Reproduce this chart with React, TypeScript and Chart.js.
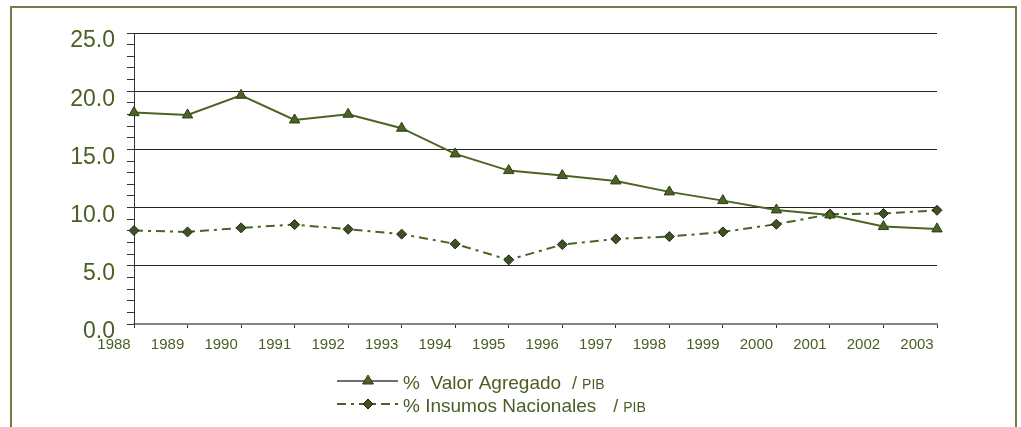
import React, { useEffect, useRef } from "react";
import { Chart, registerables } from "chart.js";

Chart.register(...registerables);

const years = ["1988", "1989", "1990", "1991", "1992", "1993", "1994", "1995", "1996", "1997", "1998", "1999", "2000", "2001", "2002", "2003"];
const valorAgregado = [18.16, 17.96, 19.65, 17.53, 18.02, 16.82, 14.61, 13.18, 12.75, 12.29, 11.35, 10.6, 9.8, 9.37, 8.37, 8.17];
const insumosNacionales = [8.03, 7.91, 8.26, 8.54, 8.14, 7.72, 6.88, 5.51, 6.82, 7.31, 7.51, 7.91, 8.57, 9.43, 9.49, 9.77];
const legendLabels = ["%  Valor Agregado", "% Insumos Nacionales"];
const legendSuffix = "PIB";

const OLIVE = "#4b6323";
const TEXT = "#4a5f24";
const FONT = "'Liberation Sans', Arial, Helvetica, sans-serif";

const legendPlugin = {
  id: "customLegend",
  afterDraw(chart: any) {
    const ctx = chart.ctx as CanvasRenderingContext2D;
    ctx.save();
    const x0 = 337, x1 = 398, mx = 368, tx = 403;
    const rows = [381, 404];
    // row 1 sample
    ctx.strokeStyle = "#6e6e6e";
    ctx.lineWidth = 2;
    ctx.setLineDash([]);
    ctx.beginPath();
    ctx.moveTo(x0, rows[0]);
    ctx.lineTo(x1, rows[0]);
    ctx.stroke();
    ctx.fillStyle = OLIVE;
    ctx.strokeStyle = "#2f3e15";
    ctx.lineWidth = 1;
    ctx.beginPath();
    ctx.moveTo(mx, rows[0] - 6);
    ctx.lineTo(mx + 5.5, rows[0] + 3);
    ctx.lineTo(mx - 5.5, rows[0] + 3);
    ctx.closePath();
    ctx.fill();
    ctx.stroke();
    // row 2 sample
    ctx.strokeStyle = OLIVE;
    ctx.lineWidth = 2;
    ctx.setLineDash([9, 5, 3, 5]);
    ctx.beginPath();
    ctx.moveTo(x0, rows[1]);
    ctx.lineTo(x1, rows[1]);
    ctx.stroke();
    ctx.setLineDash([]);
    ctx.fillStyle = "#3e5220";
    ctx.strokeStyle = "#222";
    ctx.lineWidth = 1;
    ctx.beginPath();
    ctx.moveTo(mx, rows[1] - 5);
    ctx.lineTo(mx + 5, rows[1]);
    ctx.lineTo(mx, rows[1] + 5);
    ctx.lineTo(mx - 5, rows[1]);
    ctx.closePath();
    ctx.fill();
    ctx.stroke();
    // texts
    ctx.fillStyle = TEXT;
    ctx.textBaseline = "alphabetic";
    ctx.textAlign = "left";
    const gaps = [11, 17];
    legendLabels.forEach((label, i) => {
      const base = rows[i] + 8;
      ctx.font = `19px ${FONT}`;
      ctx.fillText(label, tx, base);
      const w = ctx.measureText(label).width;
      const sx = tx + w + gaps[i];
      ctx.font = `18px ${FONT}`;
      ctx.fillText("/", sx, base);
      const sw = ctx.measureText("/ ").width;
      ctx.font = `14px ${FONT}`;
      ctx.fillText(legendSuffix, sx + sw, base);
    });
    ctx.restore();
  },
};

export default function App() {
  const ref = useRef<HTMLCanvasElement | null>(null);
  useEffect(() => {
    if (!ref.current) return;
    const chart = new Chart(ref.current, {
      type: "line",
      data: {
        labels: years,
        datasets: [
          {
            label: legendLabels[0],
            data: valorAgregado,
            borderColor: OLIVE,
            borderWidth: 2,
            pointStyle: "triangle",
            pointRadius: 6,
            pointBackgroundColor: OLIVE,
            pointBorderColor: "#2f3e15",
            pointBorderWidth: 1,
            tension: 0,
          },
          {
            label: legendLabels[1],
            data: insumosNacionales,
            borderColor: OLIVE,
            borderWidth: 2,
            borderDash: [9, 5, 3, 5],
            pointStyle: "rectRot",
            pointRadius: 5,
            pointBackgroundColor: "#3e5220",
            pointBorderColor: "#222",
            pointBorderWidth: 1,
            tension: 0,
          },
        ],
      },
      options: {
        animation: false,
        responsive: false,
        events: [],
        layout: { padding: { left: 0, right: 84, top: 33, bottom: 63 } },
        plugins: { legend: { display: false }, tooltip: { enabled: false } },
        scales: {
          x: {
            type: "category",
            offset: false,
            grid: { drawOnChartArea: false, drawTicks: true, tickLength: 4, tickColor: "#333", lineWidth: 1 },
            border: { color: "#858585", width: 2 },
            ticks: {
              color: TEXT,
              font: { family: FONT, size: 15 },
              maxRotation: 0,
              autoSkip: false,
              labelOffset: -20,
              padding: 8,
            },
            afterFit(scale: any) {
              scale.height = 40;
            },
          },
          y: {
            min: 0,
            max: 25,
            grid: {
              color: (c: any) => (c.tick && c.tick.value % 5 === 0 && c.tick.value !== 0 ? "#222" : "rgba(0,0,0,0)"),
              tickColor: "#333",
              tickLength: 7,
              lineWidth: 1,
            },
            border: { color: "#333", width: 1 },
            ticks: {
              stepSize: 1,
              autoSkip: false,
              color: TEXT,
              font: { family: FONT, size: 23 },
              padding: 12,
              labelOffset: 8,
              callback: (v: any) => (Number(v) % 5 === 0 ? Number(v).toFixed(1) : ""),
            },
            afterFit(scale: any) {
              scale.width = 134;
            },
          },
        },
      },
      plugins: [legendPlugin],
    });
    return () => chart.destroy();
  }, []);

  return (
    <div style={{ position: "absolute", left: 0, top: 0, width: 1021, height: 427, overflow: "hidden", background: "#fff" }}>
      <div
        style={{
          position: "absolute",
          left: 10,
          top: 6,
          width: 1003,
          height: 460,
          borderLeft: "2px solid #6f7f45",
          borderTop: "2px solid #6f7f45",
          borderRight: "2px solid #6f7f45",
        }}
      />
      <canvas ref={ref} width={1021} height={427} style={{ position: "absolute", left: 0, top: 0, width: 1021, height: 427 }} />
    </div>
  );
}
